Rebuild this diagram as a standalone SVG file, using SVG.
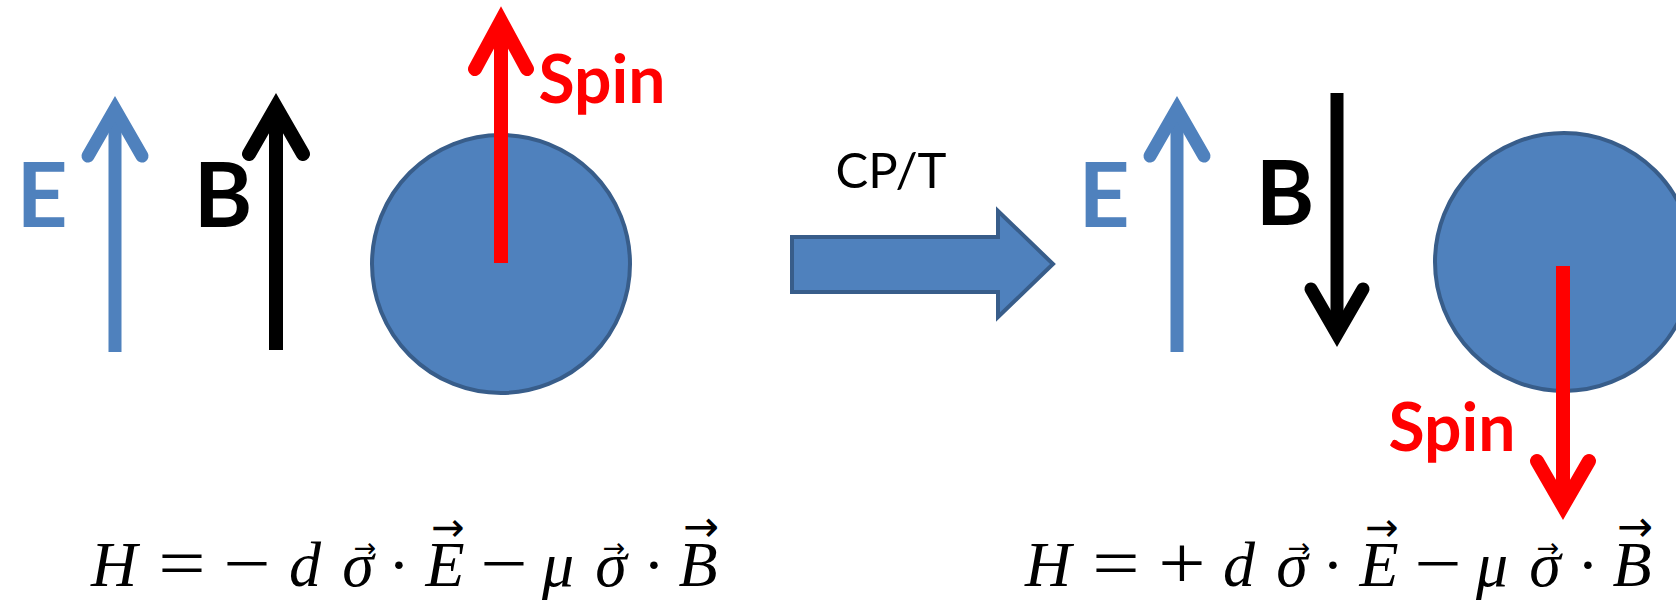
<svg xmlns="http://www.w3.org/2000/svg" width="1676" height="603" viewBox="0 0 1676 603">
<style>
.lbl{font-family:Lato,"Liberation Sans",sans-serif;font-weight:bold;text-anchor:middle}
.big{font-size:89px}
.spin{font-size:66px;fill:#FF0000}
.eq{font-family:"Liberation Serif",serif;font-size:64px;text-anchor:middle;fill:#000}
.it{font-style:italic}
.op{font-size:70px}
.vec{font-family:"DejaVu Sans",sans-serif;font-style:normal}
.shaft{fill:none;stroke-linecap:butt}
.head{fill:none;stroke-linecap:round;stroke-linejoin:miter;stroke-miterlimit:10}
.ball{fill:#4F81BD;stroke:#385D8A;stroke-width:4}
</style>
<rect width="1676" height="603" fill="#FFFFFF"/>

<g id="left-particle">
<circle class="ball" cx="501" cy="264" r="129"/>
</g>
<g id="right-particle">
<circle class="ball" cx="1564" cy="262" r="129"/>
</g>

<g id="connectors">
<g id="left-E-arrow" stroke="#4F81BD" stroke-width="13">
<line class="shaft" x1="115" y1="352" x2="115" y2="110"/>
<polyline class="head" points="88,156 115,109 142,156"/>
</g>
<g id="left-B-arrow" stroke="#000000" stroke-width="14">
<line class="shaft" x1="276" y1="350" x2="276" y2="108"/>
<polyline class="head" points="249,154 276,107 303,154"/>
</g>
<g id="left-spin-arrow" stroke="#FF0000" stroke-width="14">
<line class="shaft" x1="501" y1="263" x2="501" y2="22"/>
<polyline class="head" points="475,69 501,21 527,69"/>
</g>
<g id="cpt-arrow">
<polygon points="792,237 998,237 998,211 1053,264 998,317 998,292 792,292" fill="#4F81BD" stroke="#385D8A" stroke-width="4" stroke-linejoin="miter"/>
</g>
<g id="right-E-arrow" stroke="#4F81BD" stroke-width="13">
<line class="shaft" x1="1177" y1="352" x2="1177" y2="110"/>
<polyline class="head" points="1150,156 1177,109 1204,156"/>
</g>
<g id="right-B-arrow" stroke="#000000" stroke-width="13">
<line class="shaft" x1="1337" y1="93" x2="1337" y2="333"/>
<polyline class="head" points="1311,289 1337,334 1363,289"/>
</g>
<g id="right-spin-arrow" stroke="#FF0000" stroke-width="14">
<line class="shaft" x1="1563" y1="266" x2="1563" y2="505"/>
<polyline class="head" points="1537,461 1563,506 1589,461"/>
</g>
</g>

<g id="labels">
<text class="lbl big" x="42" y="227" fill="#4F81BD">E</text>
<text class="lbl big" x="223" y="227" fill="#000000">B</text>
<text class="lbl spin" x="602" y="103">Spin</text>
<text x="891" y="188" font-family="Lato,'Liberation Sans',sans-serif" font-size="49" text-anchor="middle" fill="#000000">CP/T</text>
<text class="lbl big" x="1104" y="227" fill="#4F81BD">E</text>
<text class="lbl big" x="1285" y="225" fill="#000000">B</text>
<text class="lbl spin" x="1452" y="451">Spin</text>
</g>

<g id="left-equation">
<text class="eq it" x="114" y="586">H</text>
<text class="eq op" transform="translate(182,587) scale(1.2,1)">=</text>
<text class="eq op" transform="translate(247,587) scale(1.2,1)">−</text>
<text class="eq it" x="305" y="586">d</text>
<text class="eq it"><tspan x="358" y="586">σ</tspan><tspan class="vec" x="365" y="557" font-size="27">→</tspan></text>
<text class="eq" x="399" y="586">·</text>
<text class="eq it"><tspan x="445" y="586">E</tspan><tspan class="vec" x="448" y="541" font-size="40">→</tspan></text>
<text class="eq op" transform="translate(504,587) scale(1.2,1)">−</text>
<text class="eq it" x="558" y="586">μ</text>
<text class="eq it"><tspan x="611" y="586">σ</tspan><tspan class="vec" x="614" y="557" font-size="27">→</tspan></text>
<text class="eq" x="654" y="586">·</text>
<text class="eq it"><tspan x="698" y="586">B</tspan><tspan class="vec" x="701" y="541" font-size="43">→</tspan></text>
</g>

<g id="right-equation">
<text class="eq it" x="1048" y="586">H</text>
<text class="eq op" transform="translate(1116,587) scale(1.2,1)">=</text>
<text class="eq op" transform="translate(1182,588) scale(1.2,1.1)">+</text>
<text class="eq it" x="1239" y="586">d</text>
<text class="eq it"><tspan x="1292" y="586">σ</tspan><tspan class="vec" x="1299" y="557" font-size="27">→</tspan></text>
<text class="eq" x="1333" y="586">·</text>
<text class="eq it"><tspan x="1379" y="586">E</tspan><tspan class="vec" x="1382" y="541" font-size="40">→</tspan></text>
<text class="eq op" transform="translate(1438,587) scale(1.2,1)">−</text>
<text class="eq it" x="1492" y="586">μ</text>
<text class="eq it"><tspan x="1545" y="586">σ</tspan><tspan class="vec" x="1548" y="557" font-size="27">→</tspan></text>
<text class="eq" x="1588" y="586">·</text>
<text class="eq it"><tspan x="1632" y="586">B</tspan><tspan class="vec" x="1635" y="541" font-size="43">→</tspan></text>
</g>
</svg>
